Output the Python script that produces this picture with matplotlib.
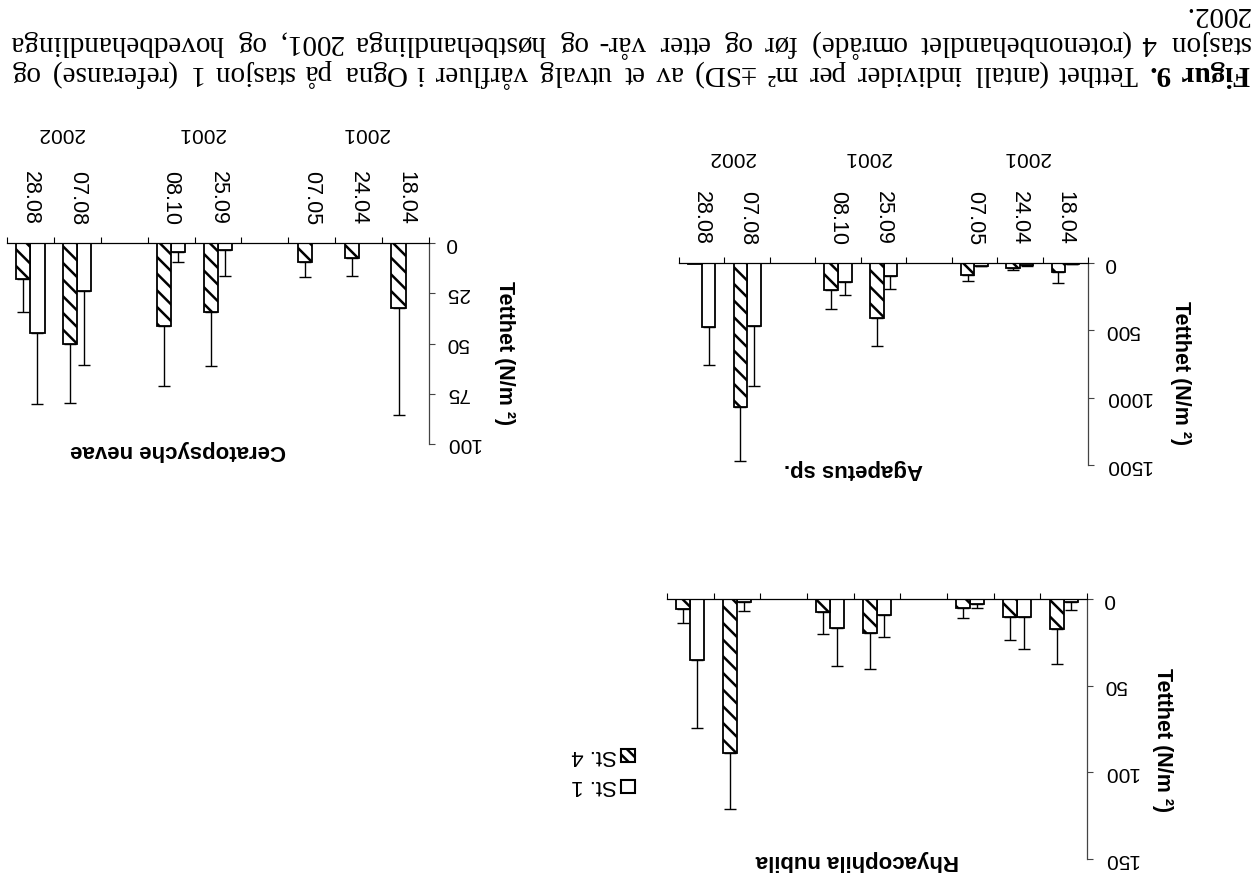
import numpy as np
import matplotlib.pyplot as plt
from matplotlib.patches import Rectangle
from matplotlib.transforms import blended_transform_factory

plt.rcParams['font.family'] = ['Liberation Sans', 'DejaVu Sans']
plt.rcParams['hatch.linewidth'] = 1.8

W, H = 1256, 882

# categories along the x axis (blank = empty slot)
categories = ['18.04', '24.04', '07.05', '', '25.09', '08.10', '', '07.08', '28.08']
year_groups = [('2001', ['18.04', '24.04', '07.05']),
               ('2001', ['25.09', '08.10']),
               ('2002', ['07.08', '28.08'])]

# Agapetus sp.
aga_st1 = [5, 15, 20, np.nan, 100, 144, np.nan, 468, 476]
aga_st1_sd = [5, 8, 5, np.nan, 94, 93, np.nan, 448, 278]
aga_st4 = [70, 35, 92, np.nan, 406, 199, np.nan, 1071, 5]
aga_st4_sd = [82, 15, 40, np.nan, 211, 145, np.nan, 403, 0]
aga_ticks = [0, 500, 1000, 1500]

# Rhyacophila nubila
rhy_st1 = [2, 10.6, 3, np.nan, 9.2, 16.7, np.nan, 2, 35.3]
rhy_st1_sd = [4.5, 18, 2, np.nan, 12.5, 21.7, np.nan, 5, 39.4]
rhy_st4 = [17.5, 10.6, 5, np.nan, 19.6, 7.7, np.nan, 89, 5.8]
rhy_st4_sd = [20, 13, 6, np.nan, 20.7, 12.5, np.nan, 32, 8]
rhy_ticks = [0, 50, 100, 150]

# Ceratopsyche nevae
cer_st1 = [0, 0, 0, np.nan, 3.3, 4.6, np.nan, 23.7, 45]
cer_st1_sd = [0, 0, 0, np.nan, 13.3, 4.7, np.nan, 37, 35]
cer_st4 = [32.4, 7.6, 9.3, np.nan, 34.4, 41.3, np.nan, 50, 17.8]
cer_st4_sd = [53.4, 8.6, 7.6, np.nan, 27, 29.8, np.nan, 29.6, 16.6]
cer_ticks = [0, 25, 50, 75, 100]

caption1 = "Tetthet (antall individer per m² ±SD) av et utvalg vårfluer i Ogna på stasjon 1 (referanse) og"
caption2 = "stasjon 4 (rotenonbehandlet område) før og etter vår- og høstbehandlinga 2001, og hovedbehandlinga"
caption3 = "2002."

fig = plt.figure(figsize=(W / 100, H / 100), dpi=100)
fig.patch.set_facecolor('white')


def fx(x):
    return x / W


def fy(y):
    return 1 - y / H


def panel(x0, x1, ytop, ybot, title, st1, sd1, st4, sd4, yticks,
          dates, year_y, title_xy, ylabel_xy):
    ax = fig.add_axes([fx(x0), fy(ybot), (x1 - x0) / W, (ybot - ytop) / H])
    x = np.arange(len(categories))
    st1 = np.array(st1, float)
    st4 = np.array(st4, float)
    sd1 = np.array(sd1, float)
    sd4 = np.array(sd4, float)
    w = 0.3
    m1 = st1 > 0
    m4 = st4 > 0
    ax.bar(x[m1] - w / 2, st1[m1], width=w, facecolor='white',
           edgecolor='black', lw=1.3, zorder=2)
    ax.bar(x[m4] + w / 2, st4[m4], width=w, facecolor='white',
           edgecolor='black', hatch='\\\\', lw=1.3, zorder=2)
    e1 = sd1 > 0
    e4 = sd4 > 0
    ax.errorbar(x[e1] - w / 2, st1[e1], yerr=[np.zeros(e1.sum()), sd1[e1]],
                fmt='none', ecolor='black', elinewidth=1.0, capsize=4,
                capthick=1.0, zorder=1)
    ax.errorbar(x[e4] + w / 2, st4[e4], yerr=[np.zeros(e4.sum()), sd4[e4]],
                fmt='none', ecolor='black', elinewidth=1.0, capsize=4,
                capthick=1.0, zorder=1)

    ax.set_xlim(-0.5, len(categories) - 0.5)
    ax.invert_xaxis()
    ax.set_ylim(0, yticks[-1])
    ax.invert_yaxis()
    ax.set_facecolor('none')
    for s in ['left', 'bottom']:
        ax.spines[s].set_visible(False)
    ax.spines['top'].set_linewidth(0.9)
    ax.spines['right'].set_linewidth(0.9)
    ax.spines['right'].set_color('#444444')

    ax.xaxis.tick_top()
    ax.set_xticks(np.arange(-0.5, len(categories), 1.0))
    ax.set_xticklabels([])
    pos = [i for i, c in enumerate(categories) if c]
    ax.set_xticks(pos, minor=True)
    ax.set_xticklabels([categories[i] if dates else '' for i in pos],
                       minor=True, rotation=270, fontsize=15.5)
    ax.tick_params(axis='x', which='major', direction='out', length=4, width=0.8)
    ax.tick_params(axis='x', which='minor', length=0, pad=13)

    ax.yaxis.tick_right()
    ax.set_yticks(yticks)
    ax.set_yticklabels([])
    ax.tick_params(axis='y', direction='out', length=4, width=0.8, color='#444444')
    for v in yticks:
        ax.annotate(str(v), xy=(1, v), xycoords=('axes fraction', 'data'),
                    xytext=(12, 0), textcoords='offset points', rotation=180,
                    ha='left', va='center', fontsize=15)

    if dates:
        tr = blended_transform_factory(ax.transData, fig.transFigure)
        for year, members in year_groups:
            c = np.mean([categories.index(m) for m in members]) - 0.15
            ax.text(c, fy(year_y), year, transform=tr, rotation=180,
                    ha='center', va='center', fontsize=15)

    fig.text(fx(title_xy[0]), fy(title_xy[1]), title, rotation=180,
             ha='center', va='center', fontsize=16, fontweight='bold')
    fig.text(fx(ylabel_xy[0]), fy(ylabel_xy[1]), 'Tetthet (N/m ²)', rotation=270,
             ha='center', va='center', fontsize=15.5, fontweight='bold')
    return ax


panel(679, 1088, 263, 465, 'Agapetus sp.', aga_st1, aga_st1_sd, aga_st4, aga_st4_sd,
      aga_ticks, True, 157, (853, 470), (1180, 373))
panel(667, 1087, 599, 859, 'Rhyacophila nubila', rhy_st1, rhy_st1_sd, rhy_st4, rhy_st4_sd,
      rhy_ticks, False, 0, (857, 860), (1163, 740))
panel(7, 429, 243, 444, 'Ceratopsyche nevae', cer_st1, cer_st1_sd, cer_st4, cer_st4_sd,
      cer_ticks, True, 133, (178, 451), (505, 353))

# legend (drawn upside down like the rest)
for label, hatch, ly in [('St. 1', None, 786), ('St. 4', '\\\\\\', 755)]:
    fig.patches.append(Rectangle((fx(621), fy(ly + 6.5)), 14 / W, 13 / H,
                                 transform=fig.transFigure, facecolor='white',
                                 edgecolor='black', lw=1.5, hatch=hatch))
    fig.text(fx(617), fy(ly), label, rotation=180, ha='right', va='center',
             fontsize=16)

# caption, justified, upside down
renderer = fig.canvas.get_renderer()
cap_size = 21
cap_font = dict(family=['Liberation Serif', 'DejaVu Serif'], fontsize=cap_size)


def caption_line(words, y, left, right, justify=True, nbold=0):
    texts = []
    for k, wd in enumerate(words):
        t = fig.text(0, 0, wd, rotation=180, ha='right', va='center',
                     fontweight='bold' if k < nbold else 'normal', **cap_font)
        texts.append(t)
    widths = [t.get_window_extent(renderer).width for t in texts]
    if justify and len(words) > 1:
        gap = (right - left - sum(widths)) / (len(words) - 1)
    else:
        gap = cap_size * 100 / 72 * 0.25
    xx = right
    for t, wd in zip(texts, widths):
        t.set_position((fx(xx), fy(y)))
        xx -= wd + gap


caption_line(['Figur', '9.'] + caption1.split(), 73, 10, 1250, nbold=2)
caption_line(caption2.split(), 43, 10, 1250)
caption_line(caption3.split(), 14, 10, 1250, justify=False)

fig.savefig('out.png', dpi=100, facecolor='white')
